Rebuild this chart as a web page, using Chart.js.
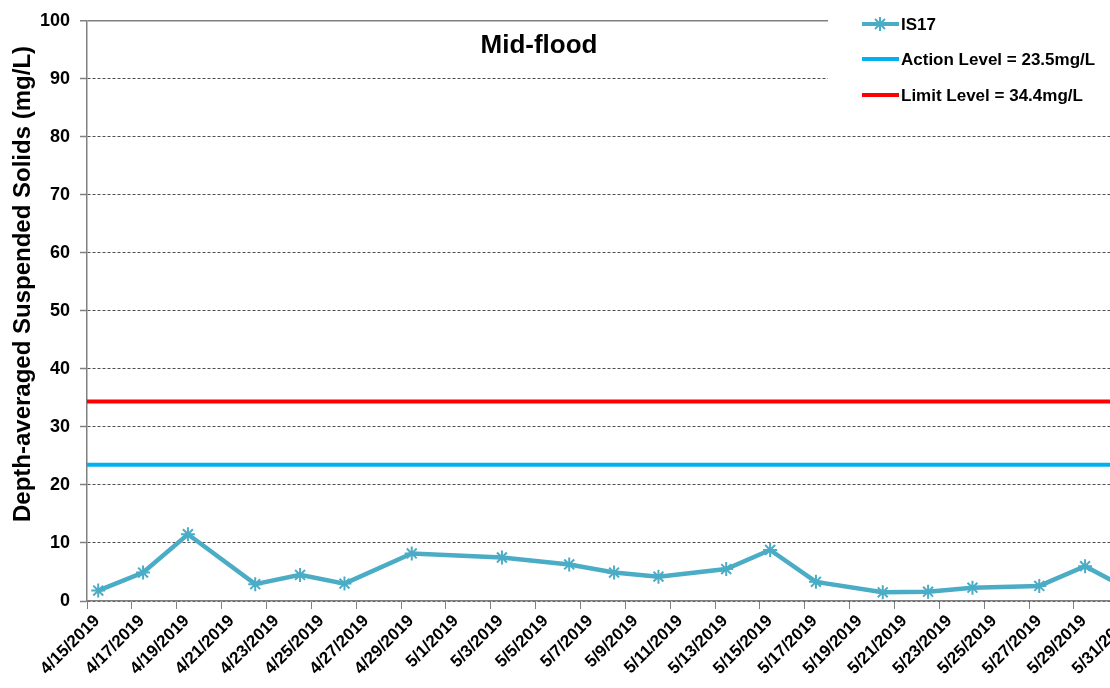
<!DOCTYPE html>
<html>
<head>
<meta charset="utf-8">
<script src="https://cdn.jsdelivr.net/npm/chart.js@4.4.1/dist/chart.umd.min.js"></script>
<style>
  html, body { margin: 0; padding: 0; overflow: hidden; background: #fff; }
  #wrap { position: absolute; left: 0; top: 0; width: 1180px; height: 688px; }
</style>
</head>
<body>
<div id="wrap"><canvas id="tssChart"></canvas></div>
<script>
// sampling times at IS17 (mid-flood)
var sampleTimes = ["2019-04-15T12:00", "2019-04-17T12:00", "2019-04-19T12:00", "2019-04-22T12:00",
  "2019-04-24T12:00", "2019-04-26T11:30", "2019-04-29T11:30", "2019-05-03T12:00",
  "2019-05-06T12:00", "2019-05-08T12:00", "2019-05-10T11:30", "2019-05-13T12:00",
  "2019-05-15T11:00", "2019-05-17T12:00", "2019-05-20T11:30", "2019-05-22T12:00",
  "2019-05-24T11:30", "2019-05-27T11:00", "2019-05-29T12:00", "2019-05-31T12:00"];
var is17 = [1.8, 4.9, 11.5, 2.9, 4.5, 3.0, 8.2, 7.5, 6.3, 4.9, 4.2, 5.5, 8.8, 3.3, 1.5, 1.6, 2.3, 2.6, 6.0, 1.9];
var actionLevel = 23.5;
var limitLevel = 34.4;
var axisStart = "2019-04-15";
var axisEnd = "2019-06-02";
var yTicks = [0, 10, 20, 30, 40, 50, 60, 70, 80, 90, 100];

var DAY = 86400000;
var t0 = Date.parse(axisStart + "T00:00Z");
function dayOf(s) { return (Date.parse(s + "Z") - t0) / DAY; }
var xMax = dayOf(axisEnd + "T00:00");

var font = "'Liberation Sans', Arial, sans-serif";

function starMark(c, x, y, r) {
  var d = r * Math.SQRT1_2;
  c.beginPath();
  c.moveTo(x, y - r); c.lineTo(x, y + r);
  c.moveTo(x - r, y); c.lineTo(x + r, y);
  c.moveTo(x - d, y - d); c.lineTo(x + d, y + d);
  c.moveTo(x - d, y + d); c.lineTo(x + d, y - d);
  c.stroke();
}

var overlay = {
  id: 'overlay',
  afterDraw: function(chart) {
    var c = chart.ctx;
    c.save();
    // legend box
    c.fillStyle = '#fff';
    c.fillRect(828, 0, chart.width - 828, 110);
    c.font = 'bold 17px ' + font;
    c.textBaseline = 'middle';
    c.textAlign = 'left';
    var rows = [24, 59, 95];
    chart.data.datasets.forEach(function(ds, i) {
      var y = rows[i];
      c.strokeStyle = ds.borderColor;
      c.lineWidth = 4;
      c.beginPath(); c.moveTo(862, y); c.lineTo(899, y); c.stroke();
      if (ds.pointRadius > 0) {
        c.lineWidth = ds.pointBorderWidth;
        starMark(c, 880, y, ds.pointRadius);
      }
      c.fillStyle = '#000';
      c.fillText(ds.label, 901, y + 1);
    });
    // chart title
    c.font = 'bold 26px ' + font;
    c.textAlign = 'center';
    c.fillText('Mid-flood', 539, 46);
    // y axis title
    c.translate(23, 284);
    c.rotate(-Math.PI / 2);
    c.font = 'bold 24px ' + font;
    c.fillText('Depth-averaged Suspended Solids (mg/L)', 0, 0);
    c.restore();
  }
};

var ctx = document.getElementById('tssChart').getContext('2d');

var myChart = new Chart(ctx, {
  type: 'line',
  data: {
    datasets: [{
        label: "IS17",
        borderColor: "#4BACC6",
        backgroundColor: "#4BACC6",
        pointStyle: 'star',
        pointRadius: 7,
        pointBorderWidth: 2,
        pointBorderColor: "#4BACC6",
        borderWidth: 4.5,
        fill: false,
        data: sampleTimes.map(function(t, i) { return {x: dayOf(t), y: is17[i]}; })
      },
      {
        label: "Action Level = " + actionLevel + "mg/L",
        borderColor: "#00B0F0",
        borderWidth: 4,
        pointRadius: 0,
        fill: false,
        data: [{x: 0, y: actionLevel}, {x: xMax, y: actionLevel}]
      },
      {
        label: "Limit Level = " + limitLevel + "mg/L",
        borderColor: "#FF0000",
        borderWidth: 4,
        pointRadius: 0,
        fill: false,
        data: [{x: 0, y: limitLevel}, {x: xMax, y: limitLevel}]
      }
    ]
  },
  options: {
    responsive: true,
    maintainAspectRatio: false,
    animation: false,
    layout: { padding: { top: 20, right: 6, left: 0, bottom: 0 } },
    plugins: {
      legend: { display: false },
      tooltip: { enabled: false }
    },
    scales: {
      x: {
        type: 'linear',
        min: 0,
        max: xMax,
        afterFit: function(s) { s.height = 87; },
        afterBuildTicks: function(s) {
          s.ticks = [];
          for (var v = 0; v <= xMax; v += 2) s.ticks.push({value: v});
        },
        ticks: {
          minRotation: 45,
          maxRotation: 45,
          padding: 2,
          labelOffset: 10,
          color: '#000',
          font: { family: font, size: 17, weight: 'bold' },
          callback: function(v) {
            var d = new Date(t0 + v * DAY);
            return (d.getUTCMonth() + 1) + '/' + d.getUTCDate() + '/' + d.getUTCFullYear();
          }
        },
        grid: { drawOnChartArea: false, color: '#808080', tickLength: 8 },
        border: { color: '#808080', width: 1.5 }
      },
      y: {
        min: 0,
        max: 100,
        afterFit: function(s) { s.width = 87; },
        afterBuildTicks: function(s) { s.ticks = yTicks.map(function(v) { return {value: v}; }); },
        ticks: {
          padding: 10,
          color: '#000',
          font: { family: font, size: 18, weight: 'bold' }
        },
        grid: {
          color: function(c) { return c.tick && c.tick.value === 100 ? '#808080' : '#222'; },
          lineWidth: function(c) { return c.tick && c.tick.value === 100 ? 1.5 : 0.8; },
          tickColor: '#808080',
          tickLength: 7,
          tickWidth: 1.5
        },
        border: {
          color: '#808080',
          width: 1.5,
          dash: function(c) { return c.tick && c.tick.value === 100 ? [] : [3, 2]; }
        }
      }
    }
  },
  plugins: [overlay]
});
</script>
</body>
</html>
